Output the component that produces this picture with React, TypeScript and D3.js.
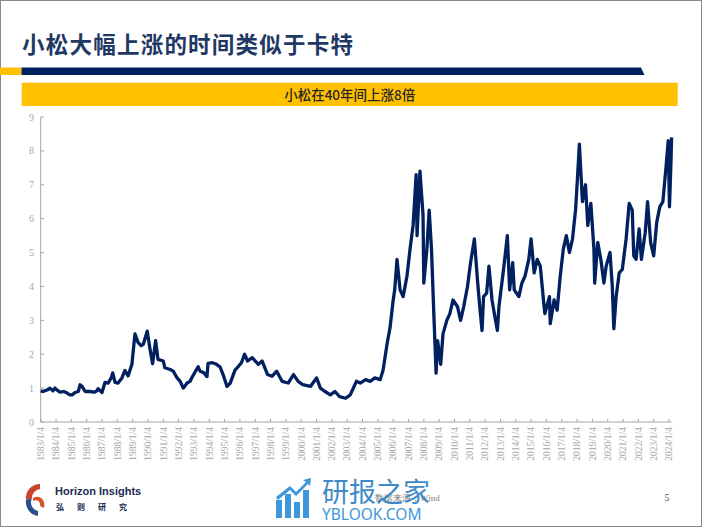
import * as d3 from "d3";

// decimal year -> value
const times = [
  1983.0, 1983.15, 1983.45, 1983.6, 1983.8, 1983.93, 1984.1, 1984.26, 1984.5, 1984.7,
  1984.9, 1985.05, 1985.24, 1985.45, 1985.57, 1985.7, 1985.9, 1986.2, 1986.5, 1986.67,
  1986.74, 1987.0, 1987.2, 1987.4, 1987.6, 1987.7, 1987.85, 1988.05, 1988.3, 1988.5,
  1988.7, 1988.95, 1989.15, 1989.35, 1989.55, 1989.7, 1989.95, 1990.15, 1990.3, 1990.5,
  1990.65, 1991.0, 1991.1, 1991.45, 1991.65, 1991.9, 1992.1, 1992.3, 1992.4, 1992.55,
  1992.75, 1992.9, 1993.27, 1993.4, 1993.65, 1993.85, 1993.92, 1994.2, 1994.4, 1994.7,
  1994.9, 1995.16, 1995.36, 1995.68, 1995.88,
  1996.1, 1996.3, 1996.5, 1996.8, 1997.2, 1997.45, 1997.8, 1998.1, 1998.4, 1998.75,
  1999.15, 1999.5, 1999.8, 2000.1, 2000.6, 2001.0, 2001.25, 2001.55, 2001.9, 2002.2,
  2002.5, 2002.9, 2003.2, 2003.4, 2003.6, 2003.85, 2004.2, 2004.5, 2004.8, 2005.15,
  2005.34, 2005.6, 2005.8, 2006.0, 2006.1, 2006.25, 2006.45, 2006.65, 2006.9, 2007.1,
  2007.3, 2007.5, 2007.56, 2007.75, 2007.95, 2008.0, 2008.2, 2008.35, 2008.5, 2008.66,
  2008.8, 2008.9, 2009.1, 2009.25, 2009.5, 2009.7, 2009.9, 2010.2, 2010.4, 2010.6,
  2010.85, 2011.05, 2011.3, 2011.5, 2011.65, 2011.8, 2011.9, 2012.1, 2012.25, 2012.45,
  2012.6, 2012.8, 2012.9, 2013.2, 2013.45, 2013.6, 2013.8, 2013.9, 2014.2, 2014.4,
  2014.6, 2014.85, 2015.0, 2015.2, 2015.4, 2015.6, 2015.85, 2015.9, 2016.2, 2016.25,
  2016.5, 2016.7, 2016.9, 2017.1, 2017.3, 2017.5, 2017.7, 2017.9, 2018.0, 2018.15,
  2018.35, 2018.55, 2018.7, 2018.9, 2019.1, 2019.15, 2019.35, 2019.55, 2019.75, 2019.9,
  2020.15, 2020.3, 2020.4, 2020.55, 2020.75, 2020.95, 2021.2, 2021.4, 2021.6, 2021.7,
  2021.85, 2022.05, 2022.2, 2022.45, 2022.6, 2022.8, 2023.0, 2023.2, 2023.4, 2023.6,
  2023.8, 2023.95, 2024.03, 2024.08, 2024.13, 2024.17,
];

const values = [
  0.92, 0.9, 0.95, 1.0, 0.92, 1.0, 0.93, 0.88, 0.9, 0.86,
  0.8, 0.8, 0.87, 0.9, 1.1, 1.05, 0.9, 0.9, 0.88, 0.92,
  0.98, 0.87, 1.17, 1.15, 1.3, 1.45, 1.17, 1.15, 1.3, 1.52,
  1.36, 1.7, 2.6, 2.35, 2.25, 2.3, 2.68, 2.1, 1.72, 2.4,
  1.85, 1.8, 1.6, 1.55, 1.5, 1.3, 1.2, 1.0, 1.05, 1.15,
  1.2, 1.34, 1.63, 1.5, 1.45, 1.34, 1.73, 1.75, 1.72, 1.63,
  1.4, 1.05, 1.14, 1.53, 1.63,
  1.75, 2.0, 1.8, 1.9, 1.7, 1.8, 1.4, 1.35, 1.5, 1.2,
  1.15, 1.4, 1.2, 1.1, 1.05, 1.3, 1.0, 0.9, 0.8, 0.9,
  0.75, 0.7, 0.8, 1.0, 1.2, 1.15, 1.25, 1.2, 1.3, 1.25,
  1.53, 2.3, 2.8, 3.6, 3.9, 4.8, 3.9, 3.7, 4.3, 5.1,
  5.8, 7.3, 5.5, 7.4, 6.1, 4.1, 5.1, 6.25, 5.1, 3.1,
  1.44, 2.4, 1.7, 2.6, 3.0, 3.2, 3.6, 3.4, 3.0, 3.4,
  4.0, 4.7, 5.4, 4.2, 3.4, 2.7, 3.7, 3.8, 4.6, 3.6,
  3.2, 2.7, 3.4, 4.5, 5.5, 3.9, 4.7, 3.9, 3.7, 4.1,
  4.3, 4.8, 5.4, 4.4, 4.8, 4.6, 3.4, 3.2, 3.7, 2.9,
  3.6, 3.3, 4.3, 5.1, 5.5, 5.0, 5.4, 6.25, 7.0, 8.2,
  6.5, 7.0, 5.8, 6.45, 5.1, 4.1, 5.3, 4.8, 4.1, 4.6,
  5.0, 4.0, 2.75, 3.7, 4.4, 4.5, 5.4, 6.45, 6.25, 4.9,
  4.8, 5.7, 4.8, 5.6, 6.5, 5.3, 4.9, 5.9, 6.35, 6.5,
  7.5, 8.3, 6.35, 7.0, 7.7, 8.4,
];

const tickYears = d3.range(1983, 2025);
const yTicks = [0, 1, 2, 3, 4, 5, 6, 7, 8, 9];

const title = "小松大幅上涨的时间类似于卡特";
const subtitle = "小松在40年间上涨8倍";
const source = "数据来源：Wind";

const NAVY = "#002060";
const YELLOW = "#FFC000";
const GRAY = "#a8a8a8";
const SERIF = "'Liberation Serif', 'DejaVu Serif', serif";
const CJK = "'Noto Sans CJK SC', sans-serif";

const W = 702;
const H = 527;

function toDate(t: number) {
  const y = Math.floor(t);
  const start = new Date(y, 0, 4).getTime();
  const end = new Date(y + 1, 0, 4).getTime();
  return new Date(start + (end - start) * (t - y));
}

export default function App() {
  const x = d3
    .scaleTime()
    .domain([new Date(1983, 0, 4), new Date(2024, 0, 4)])
    .range([40.7, 669]);
  const y = d3.scaleLinear().domain([0, 9]).range([422, 117]);

  const pts = times.map((t, i) => ({ d: toDate(t), v: values[i] }));
  const line = d3
    .line<{ d: Date; v: number }>()
    .x((p) => x(p.d))
    .y((p) => y(p.v));

  const xEnd = x(toDate(2024.17));

  return (
    <svg
      width={W}
      height={H}
      style={{ position: "absolute", left: 0, top: 0, background: "#fff" }}
    >
      <rect x={0.5} y={0.5} width={W - 1} height={H - 1} fill="#fff" stroke="#8a8a8a" />

      {/* title */}
      <text
        x={22}
        y={53}
        fontFamily={CJK}
        fontWeight={700}
        fontSize={22.5}
        fill="#1f3864"
        textLength={331}
        lengthAdjust="spacing"
      >
        {title}
      </text>

      {/* header bars */}
      <rect x={0} y={67.5} width={21.5} height={7.5} fill={YELLOW} />
      <path d="M21.5,67.5 L641,67.5 L644.5,75 L21.5,75 Z" fill={NAVY} />
      <rect x={21.7} y={82.7} width={656} height={23.3} fill={YELLOW} />
      <text
        x={349.7}
        y={99.5}
        textAnchor="middle"
        fontFamily={CJK}
        fontSize={13.5}
        fontWeight={500}
        fill="#262626"
      >
        {subtitle}
      </text>

      {/* y axis */}
      <line x1={40.7} x2={40.7} y1={y(9)} y2={y(0)} stroke="#a6a6a6" />
      {yTicks.map((t) => (
        <g key={t}>
          <line x1={40.7} x2={44} y1={y(t)} y2={y(t)} stroke="#a6a6a6" />
          <text
            x={34}
            y={y(t)}
            dy="0.35em"
            textAnchor="end"
            fontFamily={SERIF}
            fontSize={10}
            fill={GRAY}
          >
            {t}
          </text>
        </g>
      ))}

      {/* x axis */}
      <line x1={40.7} x2={xEnd} y1={y(0)} y2={y(0)} stroke="#a6a6a6" />
      {tickYears.map((yr) => {
        const px = x(new Date(yr, 0, 4));
        return (
          <g key={yr}>
            <line x1={px} x2={px} y1={y(0)} y2={y(0) - 3} stroke="#a6a6a6" />
            <text
              transform={`translate(${px + 3.3},${y(0) + 5}) rotate(-90)`}
              textAnchor="end"
              fontFamily={SERIF}
              fontSize={9.5}
              fill={GRAY}
            >
              {`${yr}/1/4`}
            </text>
          </g>
        );
      })}

      {/* series */}
      <path
        d={line(pts) ?? ""}
        fill="none"
        stroke={NAVY}
        strokeWidth={3.3}
        strokeLinejoin="round"
      />

      {/* footer logo */}
      <g>
        <path d="M40,484 A14,14 0 0 0 26,500 L32,498 A9,9 0 0 1 40,489 Z" fill="#c8452c" />
        <path d="M26,500 A14,14 0 0 0 38,516 L38,511 A9,9 0 0 1 32,498 Z" fill="#2a4f8f" />
        <path d="M33,498 C40,494 46,500 44,508 L40,506 C41,502 37,499 33,501 Z" fill="#d2552e" />
        <text x={55} y={495} fontFamily="'Liberation Sans Narrow', 'Liberation Sans', sans-serif" fontWeight={700} fontSize={11} fill="#1a2a55">
          Horizon Insights
        </text>
        <text x={56} y={510} fontFamily={CJK} fontWeight={700} fontSize={8} fill="#1a2a55" letterSpacing={13}>
          弘则研究
        </text>
      </g>

      {/* source line sits under the watermark, as in the reference */}
      <text x={375} y={501} fontFamily={SERIF} fontSize={9} fill="#7f7f7f">
        {source}
      </text>

      {/* watermark */}
      <g fill="#2f8fd8" opacity={0.92}>
        <rect x={276} y={500} width={6} height={18} />
        <rect x={285} y={494} width={6} height={24} />
        <rect x={294} y={502} width={6} height={16} />
        <rect x={303} y={490} width={6} height={28} />
        <path d="M276,497 L290,486 L296,492 L306,482 L303,480 L311,478 L310,486 L308,484 L296,496 L290,490 L278,500 Z" />
        <text x={322} y={502} fontFamily={CJK} fontSize={27} fill="#2f7fc4">
          研报之家
        </text>
        <text x={322} y={520} fontFamily="'Noto Sans', sans-serif" fontSize={15.5} fill="#2f8fd8">
          YBLOOK.COM
        </text>
      </g>

      <text x={667} y={501} textAnchor="middle" fontFamily={SERIF} fontSize={10} fill="#555">
        5
      </text>
    </svg>
  );
}
